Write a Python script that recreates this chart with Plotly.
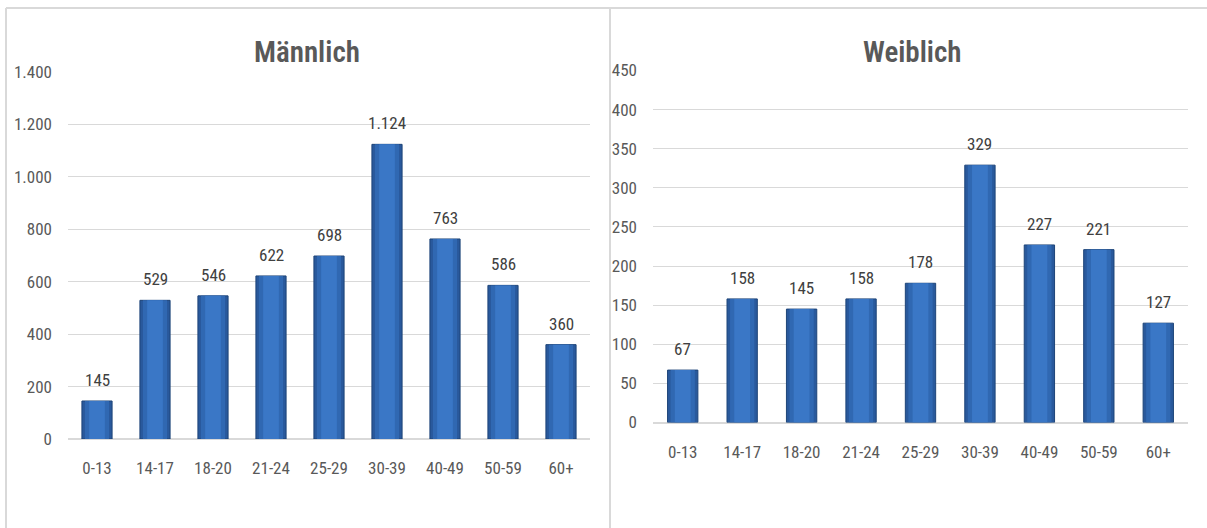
import plotly.graph_objects as go

# Age groups and counts per gender
age_groups = ["0-13", "14-17", "18-20", "21-24", "25-29", "30-39", "40-49", "50-59", "60+"]
male_counts = [145, 529, 546, 622, 698, 1124, 763, 586, 360]
female_counts = [67, 158, 145, 158, 178, 329, 227, 221, 127]

male_ticks = [0, 200, 400, 600, 800, 1000, 1200, 1400]
female_ticks = [0, 50, 100, 150, 200, 250, 300, 350, 400, 450]

W, H = 1207, 528
FONT = "Liberation Sans Narrow, Arial Narrow, Roboto Condensed, sans-serif"
TXT = "#595959"
GRID = "#d9d9d9"

# bar shading layers, from outer rim to centre highlight
BAR_LAYERS = [(1.0, "#29599c"), (0.8, "#3068b2"), (0.52, "#3a77c6")]


def px_x(v):
    return v / W


def px_y(v):
    return 1 - v / H


fig = go.Figure()

panels = [
    dict(vals=male_counts, ticks=male_ticks, ymax=1400, xa="x", ya="y",
         width=0.52, xdom=(68, 590), ydom=(439, 72), title="Männlich", tx=307),
    dict(vals=female_counts, ticks=female_ticks, ymax=450, xa="x2", ya="y2",
         width=0.51, xdom=(653, 1188), ydom=(422.5, 70.5), title="Weiblich", tx=912),
]

for i, p in enumerate(panels):
    for k, (frac, col) in enumerate(BAR_LAYERS):
        fig.add_trace(go.Bar(
            x=age_groups, y=p["vals"], width=p["width"] * frac,
            xaxis=p["xa"], yaxis=p["ya"],
            marker=dict(color=col,
                        line=dict(color="#1d4478", width=1 if k == 0 else 0)),
            hoverinfo="skip", showlegend=False,
        ))
    # value labels above the bars
    for cat, v in zip(age_groups, p["vals"]):
        fig.add_annotation(
            x=cat, y=v, xref=p["xa"], yref=p["ya"], text=f"{v:,}".replace(",", "."),
            showarrow=False, xanchor="center", yanchor="bottom", yshift=9,
            font=dict(family=FONT, size=17, color="#404040"),
        )
    sfx = "" if i == 0 else "2"
    fig.update_layout(**{
        "xaxis" + sfx: dict(
            domain=[px_x(p["xdom"][0]), px_x(p["xdom"][1])],
            anchor=p["ya"], showgrid=False, showline=False, zeroline=False,
            tickfont=dict(family=FONT, size=17, color=TXT), ticks="",
            ticklabelstandoff=17, fixedrange=True, automargin=False,
        ),
        "yaxis" + sfx: dict(
            domain=[px_y(p["ydom"][0]), px_y(p["ydom"][1])],
            anchor=p["xa"], range=[0, p["ymax"]], tickvals=p["ticks"],
            tickformat=",d", showgrid=True, gridcolor=GRID, gridwidth=1,
            zeroline=True, zerolinecolor=GRID, zerolinewidth=1.5,
            showline=False, ticks="", ticklabelstandoff=15,
            tickfont=dict(family=FONT, size=17, color=TXT), fixedrange=True,
            automargin=False,
        ),
    })
    fig.add_annotation(
        text=p["title"], xref="paper", yref="paper",
        x=px_x(p["tx"]), y=px_y(52), xanchor="center", yanchor="middle",
        showarrow=False, font=dict(family=FONT, size=29, color=TXT, weight=600),
    )

# panel frames
frame = dict(type="line", xref="paper", yref="paper", line=dict(color=GRID, width=2))
fig.add_shape(**frame, x0=px_x(6), x1=1, y0=px_y(8), y1=px_y(8))
fig.add_shape(**frame, x0=px_x(6), x1=px_x(6), y0=px_y(8), y1=0)
fig.add_shape(**frame, x0=px_x(610), x1=px_x(610), y0=px_y(8), y1=0)

fig.update_layout(
    width=W, height=H, margin=dict(l=0, r=0, t=0, b=0, pad=0, autoexpand=False),
    paper_bgcolor="white", plot_bgcolor="white",
    barmode="overlay", separators=",.",
)

fig.write_html("out.html", config={"displayModeBar": False})
